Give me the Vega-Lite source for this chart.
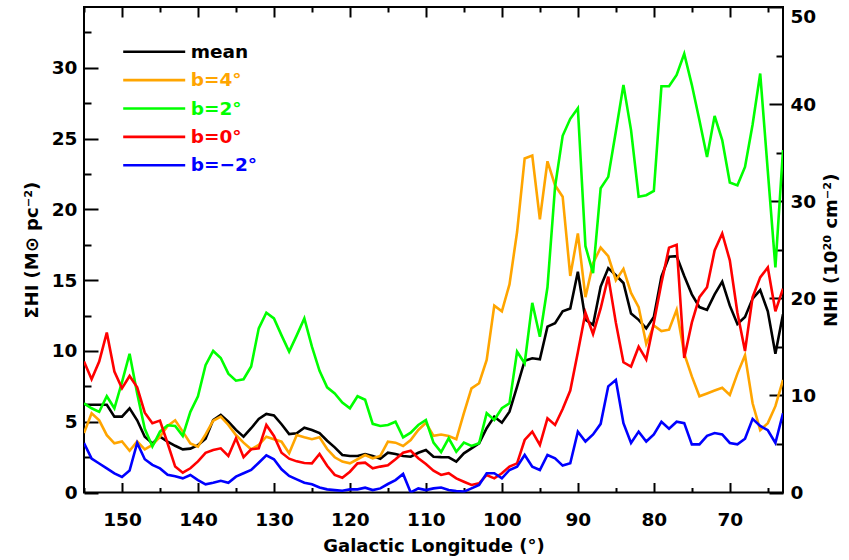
{
  "$schema": "https://vega.github.io/schema/vega-lite/v6.json",
  "width": 699,
  "height": 485.5,
  "autosize": {"type": "none"},
  "padding": {"left": 84, "top": 7, "right": 66, "bottom": 67.5},
  "config": {
    "font": "DejaVu Sans",
    "view": {"stroke": "black", "strokeWidth": 2},
    "axis": {
      "labelFont": "DejaVu Sans", "labelFontWeight": "bold", "labelFontSize": 18.5, "labelColor": "black",
      "titleFont": "DejaVu Sans", "titleFontWeight": "bold", "titleFontSize": 18, "titleColor": "black",
      "grid": false, "domain": false, "tickColor": "black", "tickWidth": 2
    }
  },
  "data": {"values": [
    {"lon":155,"mean":6.2,"b=4°":4.2,"b=2°":6.3,"b=0°":9.25,"b=−2°":3.5},
    {"lon":154,"mean":6.2,"b=4°":5.6,"b=2°":5.95,"b=0°":8.0,"b=−2°":2.4},
    {"lon":153,"mean":6.2,"b=4°":5.1,"b=2°":5.7,"b=0°":9.25,"b=−2°":2.05},
    {"lon":152,"mean":6.2,"b=4°":4.05,"b=2°":6.8,"b=0°":11.3,"b=−2°":1.7},
    {"lon":151,"mean":5.36,"b=4°":3.47,"b=2°":5.95,"b=0°":8.54,"b=−2°":1.35},
    {"lon":150,"mean":5.36,"b=4°":3.6,"b=2°":7.8,"b=0°":7.36,"b=−2°":1.1},
    {"lon":149,"mean":5.95,"b=4°":2.95,"b=2°":9.8,"b=0°":8.23,"b=−2°":1.55},
    {"lon":148,"mean":5.1,"b=4°":3.6,"b=2°":7.0,"b=0°":7.43,"b=−2°":3.5},
    {"lon":147,"mean":3.94,"b=4°":3.05,"b=2°":4.5,"b=0°":5.64,"b=−2°":2.35},
    {"lon":146,"mean":3.47,"b=4°":3.36,"b=2°":3.25,"b=0°":4.89,"b=−2°":1.95},
    {"lon":145,"mean":3.94,"b=4°":3.94,"b=2°":4.3,"b=0°":5.08,"b=−2°":1.7},
    {"lon":144,"mean":3.6,"b=4°":4.7,"b=2°":4.75,"b=0°":3.48,"b=−2°":1.25},
    {"lon":143,"mean":3.3,"b=4°":5.1,"b=2°":4.7,"b=0°":1.83,"b=−2°":1.15},
    {"lon":142,"mean":3.05,"b=4°":4.3,"b=2°":4.0,"b=0°":1.4,"b=−2°":1.0},
    {"lon":141,"mean":3.1,"b=4°":3.47,"b=2°":5.7,"b=0°":1.71,"b=−2°":1.24},
    {"lon":140,"mean":3.35,"b=4°":3.24,"b=2°":6.8,"b=0°":2.2,"b=−2°":0.88},
    {"lon":139,"mean":3.8,"b=4°":4.1,"b=2°":9.0,"b=0°":2.8,"b=−2°":0.58},
    {"lon":138,"mean":5.12,"b=4°":5.07,"b=2°":10.0,"b=0°":3.0,"b=−2°":0.69},
    {"lon":137,"mean":5.48,"b=4°":5.36,"b=2°":9.5,"b=0°":3.12,"b=−2°":0.83},
    {"lon":136,"mean":5.0,"b=4°":4.77,"b=2°":8.4,"b=0°":2.58,"b=−2°":0.69},
    {"lon":135,"mean":4.42,"b=4°":4.06,"b=2°":7.9,"b=0°":3.83,"b=−2°":1.12},
    {"lon":134,"mean":3.94,"b=4°":3.52,"b=2°":8.0,"b=0°":2.49,"b=−2°":1.36},
    {"lon":133,"mean":4.54,"b=4°":3.05,"b=2°":8.9,"b=0°":3.05,"b=−2°":1.59},
    {"lon":132,"mean":5.19,"b=4°":3.36,"b=2°":11.6,"b=0°":3.12,"b=−2°":2.1},
    {"lon":131,"mean":5.55,"b=4°":3.94,"b=2°":12.7,"b=0°":4.77,"b=−2°":2.63},
    {"lon":130,"mean":5.45,"b=4°":3.76,"b=2°":12.3,"b=0°":4.0,"b=−2°":2.35},
    {"lon":129,"mean":4.82,"b=4°":3.59,"b=2°":11.1,"b=0°":2.81,"b=−2°":1.64},
    {"lon":128,"mean":4.13,"b=4°":2.77,"b=2°":9.95,"b=0°":2.39,"b=−2°":1.17},
    {"lon":127,"mean":4.18,"b=4°":4.06,"b=2°":11.1,"b=0°":2.2,"b=−2°":0.93},
    {"lon":126,"mean":4.58,"b=4°":3.9,"b=2°":12.3,"b=0°":2.08,"b=−2°":0.69},
    {"lon":125,"mean":4.42,"b=4°":3.76,"b=2°":10.3,"b=0°":2.06,"b=−2°":0.58},
    {"lon":124,"mean":4.2,"b=4°":3.9,"b=2°":8.6,"b=0°":2.72,"b=−2°":0.35},
    {"lon":123,"mean":3.66,"b=4°":3.07,"b=2°":7.43,"b=0°":1.89,"b=−2°":0.22},
    {"lon":122,"mean":3.19,"b=4°":2.49,"b=2°":7.0,"b=0°":1.24,"b=−2°":0.17},
    {"lon":121,"mean":2.65,"b=4°":2.18,"b=2°":6.35,"b=0°":1.04,"b=−2°":0.12},
    {"lon":120,"mean":2.58,"b=4°":2.06,"b=2°":5.95,"b=0°":1.47,"b=−2°":0.22},
    {"lon":119,"mean":2.58,"b=4°":2.35,"b=2°":6.8,"b=0°":2.06,"b=−2°":0.22},
    {"lon":118,"mean":2.72,"b=4°":2.65,"b=2°":6.55,"b=0°":2.11,"b=−2°":0.34},
    {"lon":117,"mean":2.58,"b=4°":2.42,"b=2°":4.85,"b=0°":1.71,"b=−2°":0.17},
    {"lon":116,"mean":2.39,"b=4°":2.58,"b=2°":4.7,"b=0°":1.83,"b=−2°":0.29},
    {"lon":115,"mean":2.81,"b=4°":3.59,"b=2°":4.77,"b=0°":1.92,"b=−2°":0.6},
    {"lon":114,"mean":2.72,"b=4°":3.52,"b=2°":5.0,"b=0°":2.35,"b=−2°":0.88},
    {"lon":113,"mean":2.58,"b=4°":3.29,"b=2°":3.9,"b=0°":2.81,"b=−2°":1.31},
    {"lon":112,"mean":2.53,"b=4°":3.71,"b=2°":4.23,"b=0°":2.95,"b=−2°":0.0},
    {"lon":111,"mean":2.81,"b=4°":4.42,"b=2°":4.77,"b=0°":2.42,"b=−2°":0.29},
    {"lon":110,"mean":3.0,"b=4°":4.93,"b=2°":5.12,"b=0°":2.01,"b=−2°":0.17},
    {"lon":109,"mean":2.53,"b=4°":4.0,"b=2°":3.52,"b=0°":1.54,"b=−2°":0.29},
    {"lon":108,"mean":2.5,"b=4°":4.1,"b=2°":2.85,"b=0°":1.24,"b=−2°":0.35},
    {"lon":107,"mean":2.49,"b=4°":3.99,"b=2°":3.83,"b=0°":1.36,"b=−2°":0.18},
    {"lon":106,"mean":2.18,"b=4°":3.76,"b=2°":2.88,"b=0°":1.0,"b=−2°":0.1},
    {"lon":105,"mean":2.77,"b=4°":5.6,"b=2°":3.52,"b=0°":0.76,"b=−2°":0.06},
    {"lon":104,"mean":3.12,"b=4°":7.36,"b=2°":3.29,"b=0°":0.53,"b=−2°":0.29},
    {"lon":103,"mean":3.48,"b=4°":7.72,"b=2°":3.48,"b=0°":0.65,"b=−2°":0.53},
    {"lon":102,"mean":4.54,"b=4°":9.36,"b=2°":5.6,"b=0°":1.24,"b=−2°":1.36},
    {"lon":101,"mean":5.36,"b=4°":13.2,"b=2°":5.12,"b=0°":1.0,"b=−2°":1.36},
    {"lon":100,"mean":4.93,"b=4°":12.8,"b=2°":5.95,"b=0°":1.36,"b=−2°":1.0},
    {"lon":99,"mean":5.71,"b=4°":14.7,"b=2°":6.3,"b=0°":1.83,"b=−2°":1.59},
    {"lon":98,"mean":7.48,"b=4°":18.4,"b=2°":9.95,"b=0°":2.06,"b=−2°":1.83},
    {"lon":97,"mean":9.31,"b=4°":23.6,"b=2°":9.13,"b=0°":3.71,"b=−2°":2.65},
    {"lon":96,"mean":9.48,"b=4°":23.8,"b=2°":13.4,"b=0°":4.3,"b=−2°":1.83},
    {"lon":95,"mean":9.41,"b=4°":19.3,"b=2°":11.0,"b=0°":3.36,"b=−2°":1.59},
    {"lon":94,"mean":11.72,"b=4°":23.4,"b=2°":14.5,"b=0°":5.24,"b=−2°":2.65},
    {"lon":93,"mean":11.96,"b=4°":21.7,"b=2°":21.6,"b=0°":4.77,"b=−2°":2.42},
    {"lon":92,"mean":12.8,"b=4°":20.9,"b=2°":25.2,"b=0°":5.9,"b=−2°":1.9},
    {"lon":91,"mean":13.0,"b=4°":15.3,"b=2°":26.4,"b=0°":7.2,"b=−2°":2.06},
    {"lon":90,"mean":15.6,"b=4°":18.3,"b=2°":27.15,"b=0°":9.9,"b=−2°":4.3},
    {"lon":89,"mean":12.2,"b=4°":13.8,"b=2°":17.4,"b=0°":12.7,"b=−2°":3.6},
    {"lon":88,"mean":11.85,"b=4°":16.2,"b=2°":15.5,"b=0°":11.2,"b=−2°":4.1},
    {"lon":87,"mean":14.55,"b=4°":17.3,"b=2°":21.5,"b=0°":13.0,"b=−2°":4.85},
    {"lon":86,"mean":15.85,"b=4°":16.7,"b=2°":22.3,"b=0°":15.25,"b=−2°":7.5},
    {"lon":85,"mean":15.35,"b=4°":15.0,"b=2°":25.5,"b=0°":12.0,"b=−2°":7.95},
    {"lon":84,"mean":14.8,"b=4°":15.8,"b=2°":28.8,"b=0°":9.2,"b=−2°":4.9},
    {"lon":83,"mean":12.65,"b=4°":14.1,"b=2°":25.6,"b=0°":8.9,"b=−2°":3.5},
    {"lon":82,"mean":12.2,"b=4°":13.1,"b=2°":20.9,"b=0°":10.3,"b=−2°":4.3},
    {"lon":81,"mean":11.6,"b=4°":10.5,"b=2°":21.0,"b=0°":9.4,"b=−2°":3.6},
    {"lon":80,"mean":12.4,"b=4°":11.8,"b=2°":21.3,"b=0°":12.0,"b=−2°":4.1},
    {"lon":79,"mean":15.25,"b=4°":11.4,"b=2°":28.7,"b=0°":14.8,"b=−2°":5.0},
    {"lon":78,"mean":16.65,"b=4°":11.5,"b=2°":28.7,"b=0°":17.3,"b=−2°":4.5},
    {"lon":77,"mean":16.7,"b=4°":12.9,"b=2°":29.5,"b=0°":17.5,"b=−2°":5.0},
    {"lon":76,"mean":15.3,"b=4°":9.8,"b=2°":31.0,"b=0°":9.5,"b=−2°":4.9},
    {"lon":75,"mean":14.0,"b=4°":8.2,"b=2°":28.8,"b=0°":12.0,"b=−2°":3.4},
    {"lon":74,"mean":13.1,"b=4°":6.8,"b=2°":26.3,"b=0°":13.8,"b=−2°":3.4},
    {"lon":73,"mean":12.9,"b=4°":7.0,"b=2°":23.7,"b=0°":14.5,"b=−2°":4.0},
    {"lon":72,"mean":14.0,"b=4°":7.2,"b=2°":26.6,"b=0°":17.1,"b=−2°":4.2},
    {"lon":71,"mean":14.9,"b=4°":7.4,"b=2°":24.9,"b=0°":18.3,"b=−2°":4.1},
    {"lon":70,"mean":13.2,"b=4°":6.9,"b=2°":21.9,"b=0°":16.4,"b=−2°":3.5},
    {"lon":69,"mean":11.9,"b=4°":8.4,"b=2°":21.7,"b=0°":12.7,"b=−2°":3.4},
    {"lon":68,"mean":12.4,"b=4°":9.7,"b=2°":23.0,"b=0°":10.0,"b=−2°":3.8},
    {"lon":67,"mean":13.7,"b=4°":6.3,"b=2°":26.0,"b=0°":13.8,"b=−2°":5.2},
    {"lon":66,"mean":14.3,"b=4°":4.4,"b=2°":29.6,"b=0°":15.2,"b=−2°":4.7},
    {"lon":65,"mean":12.8,"b=4°":4.9,"b=2°":22.7,"b=0°":15.9,"b=−2°":4.4},
    {"lon":64,"mean":9.8,"b=4°":6.1,"b=2°":15.9,"b=0°":12.8,"b=−2°":3.5},
    {"lon":63,"mean":12.6,"b=4°":7.95,"b=2°":24.2,"b=0°":14.4,"b=−2°":5.6}
  ]},
  "transform": [{"fold": ["mean", "b=4°", "b=2°", "b=0°", "b=−2°"], "as": ["series", "sigma"]}],
  "layer": [
    {
      "mark": {"type": "point", "opacity": 0},
      "encoding": {
        "x": {"field": "lon", "type": "quantitative", "scale": {"domain": [63, 155], "reverse": true, "nice": false, "zero": false},
          "axis": {"orient": "bottom", "values": [155,145,135,125,115,105,95,85,75,65], "tickSize": -5, "labels": false, "title": null}},
        "y": {"field": "sigma", "type": "quantitative", "scale": {"domain": [0, 34.3], "nice": false, "zero": false},
          "axis": {"orient": "left", "values": [2.5,7.5,12.5,17.5,22.5,27.5,32.5], "tickSize": -7, "labels": false, "title": null}}
      }
    },
    {
      "mark": {"type": "point", "opacity": 0},
      "encoding": {
        "x": {"field": "lon", "type": "quantitative", "scale": {"domain": [63, 155], "reverse": true, "nice": false, "zero": false},
          "axis": {"orient": "top", "values": [150,140,130,120,110,100,90,80,70], "tickSize": -10, "labels": false, "title": null}},
        "y": {"field": "sigma", "type": "quantitative", "scale": {"domain": [0, 50], "nice": false, "zero": false},
          "axis": {"orient": "right", "values": [0,10,20,30,40,50], "tickSize": -14, "labelPadding": 21,
            "labelBaseline": {"condition": {"test": "datum.value == 50", "value": "top"}, "value": "middle"},
            "title": "NHI (10²⁰ cm⁻²)", "titleAngle": 270, "titleBaseline": "top", "titlePadding": 7}}
      }
    },
    {
      "mark": {"type": "point", "opacity": 0},
      "encoding": {
        "x": {"field": "lon", "type": "quantitative", "scale": {"domain": [63, 155], "reverse": true, "nice": false, "zero": false},
          "axis": {"orient": "top", "values": [155,145,135,125,115,105,95,85,75,65], "tickSize": -5, "labels": false, "title": null}},
        "y": {"field": "sigma", "type": "quantitative", "scale": {"domain": [0, 50], "nice": false, "zero": false},
          "axis": {"orient": "right", "values": [5,15,25,35,45], "tickSize": -7, "labels": false, "title": null}}
      }
    },
    {
      "mark": {"type": "line", "strokeWidth": 2.6, "clip": true},
      "encoding": {
        "x": {"field": "lon", "type": "quantitative", "scale": {"domain": [63, 155], "reverse": true, "nice": false, "zero": false},
          "axis": {"orient": "bottom", "values": [150,140,130,120,110,100,90,80,70], "tickSize": -10, "labelPadding": 28,
            "title": "Galactic Longitude (°)", "titlePadding": 8}},
        "y": {"field": "sigma", "type": "quantitative", "scale": {"domain": [0, 34.3], "nice": false, "zero": false},
          "axis": {"orient": "left", "values": [0,5,10,15,20,25,30], "tickSize": -14, "labelPadding": 21,
            "title": "ΣHI (M⊙ pc⁻²)", "titlePadding": 10}},
        "color": {"field": "series", "type": "nominal",
          "scale": {"domain": ["mean", "b=4°", "b=2°", "b=0°", "b=−2°"], "range": ["#000000", "#FFA500", "#00FF00", "#FF0000", "#0000FF"]},
          "legend": {"orient": "none", "legendX": 37.7, "legendY": 34.7, "title": null, "padding": 0,
            "symbolType": "stroke", "symbolSize": 3844, "symbolStrokeWidth": 2.6, "clipHeight": 20, "rowPadding": 8.4,
            "labelOffset": 4, "labelFont": "DejaVu Sans", "labelFontWeight": "bold", "labelFontSize": 18.5,
            "labelBaseline": "middle", "labelLimit": 300,
            "encode": {"labels": {"update": {"fill": {"scale": "color", "field": "value"}}}}}}
      }
    }
  ],
  "resolve": {"scale": {"y": "independent"}, "axis": {"x": "independent", "y": "independent"}}
}
